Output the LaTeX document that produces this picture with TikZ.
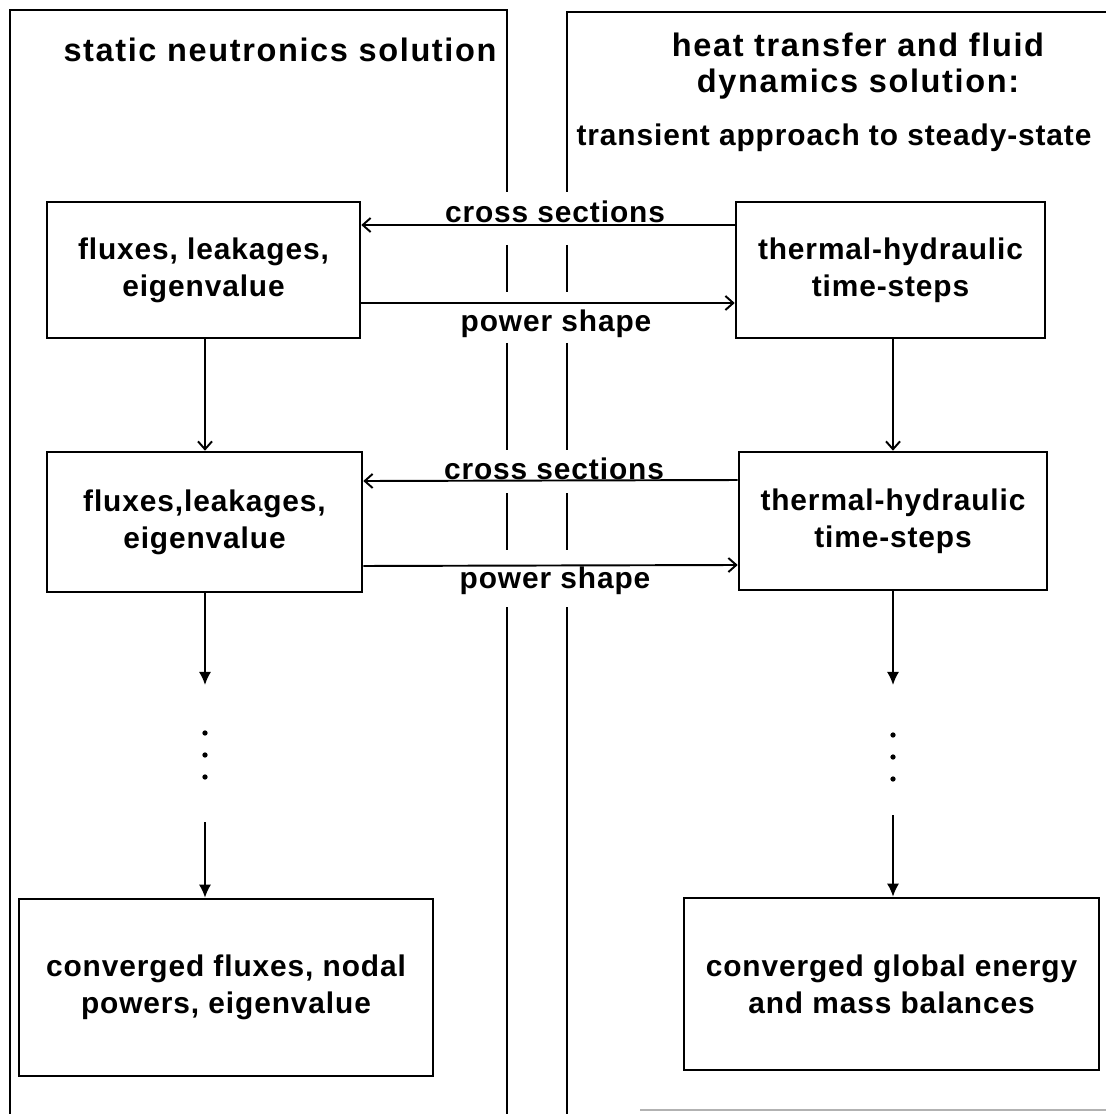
\documentclass[tikz,border=0pt]{standalone}
\usepackage{fontspec}
\newfontfamily\diagfont{Liberation Sans}[LetterSpace=3.0]
\newfontfamily\headfont{Liberation Sans}[LetterSpace=5.0]
\usetikzlibrary{arrows.meta}

\tikzset{
  box/.style={draw, line width=1.5pt, align=center, inner sep=0pt},
  txt/.style={font=\diagfont\bfseries\fontsize{17}{21}\selectfont, inner sep=0pt, align=center},
  head/.style={font=\headfont\bfseries\fontsize{18.5}{20.5}\selectfont, inner sep=0pt, align=center},
  flow/.style={line width=1.1pt, -{Straight Barb[length=4.5pt,width=8pt,line width=1.1pt]}},
  flowfill/.style={line width=1.1pt, -{Latex[length=7.5pt,width=7pt]}},
  panel/.style={line width=1.3pt}
}

\begin{document}
\begin{tikzpicture}[x=0.02cm,y=-0.02cm]
\pgfmathsetmacro{\leftx}{205};
\pgfmathsetmacro{\rightx}{893};

\useasboundingbox (0,0) rectangle (1106,1114);

\begin{scope}[txt]
% the two panels
\draw[panel] (507,192) -- (507,10) -- (10,10) -- (10,1114);
\draw[panel] (567,192) -- (567,12) -- (1106,12);
\foreach \ya/\yb in {245/292, 343/450, 493/550, 607/1114}
{
  \draw[panel] (507,\ya) -- (507,\yb);
  \draw[panel] (567,\ya) -- (567,\yb);
}
\draw[gray!60, line width=0.8pt] (640,1110) -- (1106,1110);

\node[head] (tleft) at (280,50) {static neutronics solution};
\node[head] (tright) at (858,66) {heat transfer and fluid\\dynamics solution:};
\node (tsub) at (834,138) {transient approach to steady-state};

% boxes
\node[box, minimum width=6.26cm, minimum height=2.72cm] (L1) at (203.5,270) {fluxes, leakages,\\eigenvalue};
\node[box, minimum width=6.18cm, minimum height=2.72cm] (R1) at (890.5,270) {thermal-hydraulic\\time-steps};
\node[box, minimum width=6.3cm, minimum height=2.8cm] (L2) at (204.5,522) {fluxes,leakages,\\eigenvalue};
\node[box, minimum width=6.16cm, minimum height=2.76cm] (R2) at (893,521) {thermal-hydraulic\\time-steps};
\node[box, minimum width=8.28cm, minimum height=3.54cm] (L3) at (226,987.5) {converged fluxes, nodal\\powers, eigenvalue};
\node[box, minimum width=8.3cm, minimum height=3.44cm] (R3) at (891.5,984) {converged global energy\\and mass balances};

% exchanges between the panels
\draw[flow] ([yshift=0.9cm]R1.west) -- ([yshift=0.9cm]L1.east);
\draw[flow] ([yshift=-0.66cm]L1.east) -- ([yshift=-0.66cm]R1.west);
\draw[flow] ([yshift=0.82cm]R2.west) -- ([yshift=0.82cm]L2.east);
\draw[flow] ([yshift=-0.88cm]L2.east) -- ([yshift=-0.88cm]R2.west);
\node (cs1) at (555,212) {cross sections};
\node (ps1) at (556,324) {power shape};
\node (cs2) at (554,469) {cross sections};
\node (ps2) at (555,581) {power shape};

% iterations
\draw[flow] (\leftx,338) coordinate (l1s) -- (l1s |- L2.north);
\draw[flow] (\rightx,338) coordinate (r1s) -- (r1s |- R2.north);
\coordinate (l2end) at (\leftx,685);
\coordinate (r2end) at (\rightx,685);
\coordinate (l3beg) at (\leftx,822);
\coordinate (r3beg) at (\rightx,815);
\draw[flowfill] (l2end |- L2.south) -- (l2end);
\draw[flowfill] (r2end |- R2.south) -- (r2end);
\foreach \y in {733,755,777}
{
  \fill (\leftx,\y) circle[radius=1.5pt];
  \fill (\rightx,\y+2) circle[radius=1.5pt];
}
\draw[flowfill] (l3beg) -- (l3beg |- L3.north);
\draw[flowfill] (r3beg) -- (r3beg |- R3.north);
\end{scope}

\end{tikzpicture}
\end{document}
